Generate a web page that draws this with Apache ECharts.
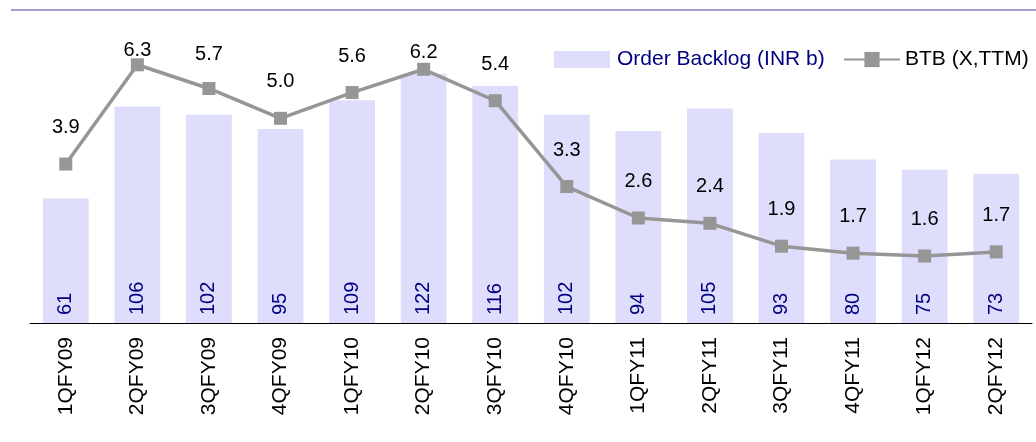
<!DOCTYPE html>
<html>
<head>
<meta charset="utf-8">
<script src="https://cdn.jsdelivr.net/npm/echarts@6/dist/echarts.min.js"></script>
<style>
  html, body { margin: 0; padding: 0; background: #fff; }
  #chart { width: 1036px; height: 442px; }
</style>
</head>
<body>
<div id="chart"></div>
<script>
const quarters = ['1QFY09', '2QFY09', '3QFY09', '4QFY09', '1QFY10', '2QFY10', '3QFY10',
  '4QFY10', '1QFY11', '2QFY11', '3QFY11', '4QFY11', '1QFY12', '2QFY12']
const orderBacklog = [61, 106, 102, 95, 109, 122, 116, 102, 94, 105, 93, 80, 75, 73]
const btb = [3.89, 6.32, 5.74, 5.01, 5.64, 6.21, 5.44, 3.34, 2.57, 2.44, 1.88, 1.71, 1.64, 1.74]

const FONT = '"Liberation Sans", Arial, sans-serif'
const NAVY = '#000080'
const GREY = '#969696'

// labels near the top get pushed closer to the points
const labelDist = { 1: -2, 5: 0, 2: 17 }

const chart = echarts.init(document.getElementById('chart'))

chart.setOption({
  animation: false,
  textStyle: { fontFamily: FONT },
  grid: { left: 30, right: 4, top: 37, bottom: 119 },
  legend: [
    {
      left: 549, top: 44,
      itemWidth: 56, itemHeight: 17, itemGap: 7,
      data: [{ name: 'Order Backlog (INR b)', icon: 'rect' }],
      textStyle: { color: NAVY, fontSize: 21, fontFamily: FONT, padding: [0, 0, 0, 2] }
    },
    {
      left: 838, top: 44,
      itemWidth: 56, itemHeight: 19,
      data: ['BTB (X,TTM)'],
      textStyle: { color: '#000', fontSize: 21, fontFamily: FONT }
    }
  ],
  graphic: [
    {
      type: 'line',
      shape: { x1: 11, y1: 10, x2: 1036, y2: 10 },
      style: { stroke: '#8080c0', lineWidth: 1.5 }
    }
  ],
  xAxis: {
    type: 'category',
    data: quarters,
    axisLine: { lineStyle: { color: '#000', width: 1 } },
    axisTick: { show: false },
    axisLabel: { rotate: 90, margin: 14, fontSize: 21, color: '#000', fontFamily: FONT }
  },
  yAxis: [
    { type: 'value', min: 0, max: 140, show: false },
    { type: 'value', min: 0, max: 7, show: false }
  ],
  series: [
    {
      name: 'Order Backlog (INR b)',
      type: 'bar',
      data: orderBacklog,
      barCategoryGap: '36%',
      itemStyle: { color: '#dedefc' },
      label: {
        show: true,
        position: 'insideBottom',
        rotate: 90,
        align: 'left',
        verticalAlign: 'middle',
        distance: 8,
        color: NAVY,
        fontSize: 20,
        fontFamily: FONT
      }
    },
    {
      name: 'BTB (X,TTM)',
      type: 'line',
      yAxisIndex: 1,
      data: btb.map((v, i) => ({
        value: v,
        label: { distance: labelDist[i] !== undefined ? labelDist[i] : 20 }
      })),
      symbol: 'rect',
      symbolSize: 13,
      lineStyle: { color: GREY, width: 3.5 },
      itemStyle: { color: GREY },
      label: {
        show: true,
        position: 'top',
        color: '#000',
        fontSize: 20,
        fontFamily: FONT,
        formatter: p => p.value.toFixed(1)
      },
      z: 3
    }
  ]
})
</script>
</body>
</html>
